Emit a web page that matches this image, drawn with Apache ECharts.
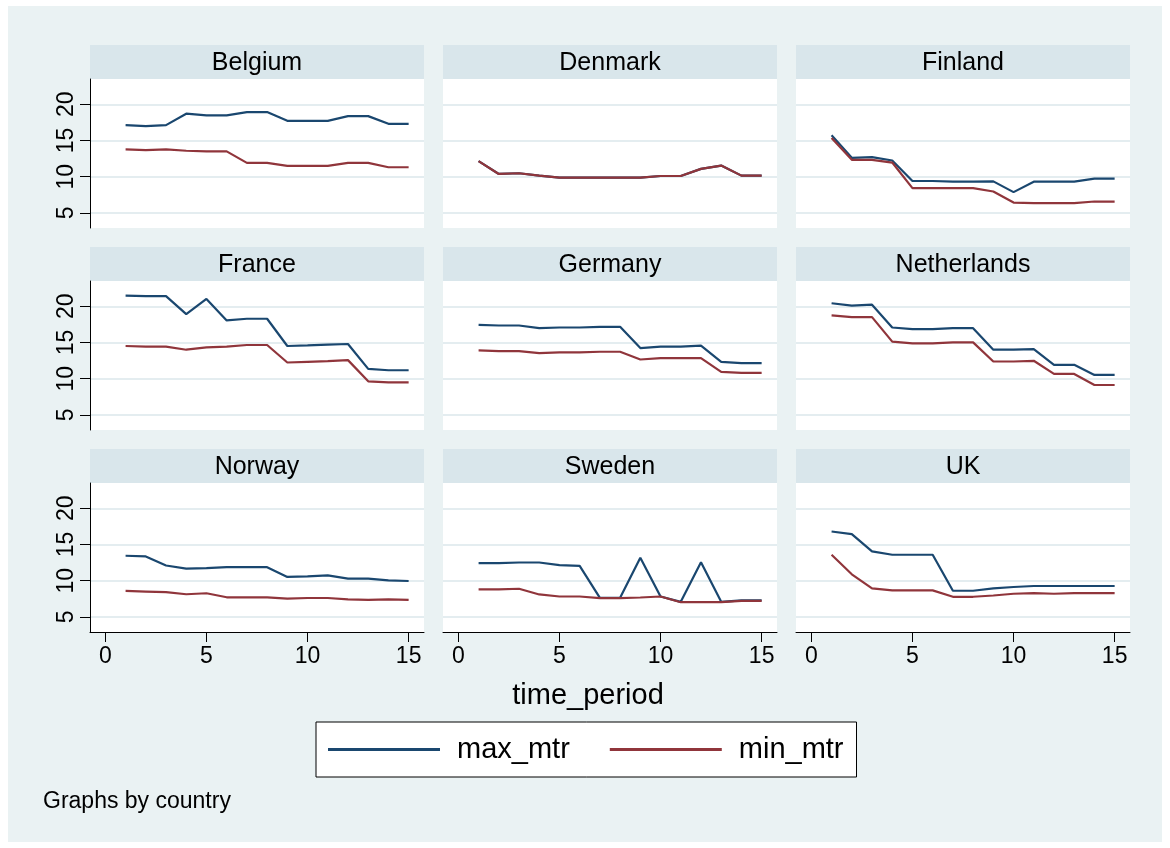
<!DOCTYPE html>
<html><head><meta charset="utf-8">
<script src="https://cdn.jsdelivr.net/npm/echarts@6/dist/echarts.min.js"></script>
<style>
html,body{margin:0;padding:0;background:#fff;}
#wrap{position:relative;width:1170px;height:848px;}
#bg{position:absolute;left:8px;top:6px;width:1154px;height:836px;background:#EAF2F3;}
#c{position:absolute;left:0;top:0;width:1170px;height:848px;}
</style>
</head><body>
<div id="wrap"><div id="bg"></div><div id="c"></div></div>
<script>
const periods = [1,2,3,4,5,6,7,8,9,10,11,12,13,14,15];
const countries = ['Belgium','Denmark','Finland','France','Germany','Netherlands','Norway','Sweden','UK'];
const xTicks = [0,5,10,15];
const yTicks = [5,10,15,20];
const seriesNames = ['max_mtr','min_mtr'];

const belgiumMax = [17.12,16.98,17.12,18.7,18.47,18.47,18.93,18.93,17.72,17.72,17.72,18.37,18.37,17.3,17.3];
const belgiumMin = [13.77,13.67,13.77,13.58,13.49,13.49,11.9,11.9,11.49,11.49,11.49,11.9,11.9,11.3,11.3];
const denmarkMax = [12.14,10.37,10.47,10.14,9.86,9.86,9.86,9.86,9.86,10.09,10.09,11.07,11.53,10.14,10.14];
const denmarkMin = [12.14,10.37,10.47,10.14,9.86,9.86,9.86,9.86,9.86,10.09,10.09,11.07,11.53,10.14,10.14];
const finlandMax = [15.72,12.6,12.7,12.23,9.4,9.4,9.3,9.3,9.35,7.86,9.3,9.3,9.3,9.72,9.72];
const finlandMin = [15.35,12.33,12.33,11.95,8.42,8.42,8.42,8.42,7.95,6.42,6.33,6.33,6.33,6.56,6.56];
const franceMax = [21.49,21.4,21.4,18.93,21.02,18.05,18.28,18.28,14.51,14.6,14.7,14.79,11.35,11.16,11.16];
const franceMin = [14.51,14.42,14.42,14.0,14.33,14.42,14.65,14.65,12.23,12.33,12.42,12.56,9.63,9.49,9.49];
const germanyMax = [17.44,17.35,17.35,16.98,17.07,17.07,17.16,17.16,14.23,14.42,14.42,14.56,12.33,12.14,12.14];
const germanyMin = [13.91,13.81,13.81,13.53,13.63,13.63,13.72,13.72,12.65,12.84,12.84,12.84,10.93,10.79,10.79];
const netherlandsMax = [20.42,20.09,20.23,17.07,16.84,16.84,16.98,16.98,14.0,14.0,14.09,11.91,11.91,10.51,10.51];
const netherlandsMin = [18.74,18.51,18.51,15.12,14.88,14.88,15.02,15.02,12.37,12.37,12.47,10.65,10.65,9.12,9.12];
const norwayMax = [13.44,13.35,12.09,11.67,11.72,11.86,11.86,11.86,10.51,10.6,10.74,10.28,10.28,10.05,9.95];
const norwayMin = [8.58,8.49,8.4,8.12,8.26,7.7,7.7,7.7,7.51,7.6,7.6,7.42,7.33,7.42,7.33];
const swedenMax = [12.42,12.42,12.51,12.51,12.14,12.05,7.63,7.63,13.16,7.81,7.07,12.56,7.07,7.26,7.26];
const swedenMin = [8.79,8.79,8.88,8.09,7.81,7.81,7.58,7.58,7.67,7.81,7.02,7.02,7.02,7.21,7.21];
const ukMax = [16.79,16.42,14.05,13.58,13.58,13.58,8.6,8.6,8.93,9.12,9.26,9.26,9.26,9.26,9.26];
const ukMin = [13.58,10.88,8.93,8.65,8.65,8.65,7.77,7.77,7.95,8.19,8.28,8.19,8.28,8.28,8.28];

const maxByCountry = [belgiumMax,denmarkMax,finlandMax,franceMax,germanyMax,netherlandsMax,norwayMax,swedenMax,ukMax];
const minByCountry = [belgiumMin,denmarkMin,finlandMin,franceMin,germanyMin,netherlandsMin,norwayMin,swedenMin,ukMin];

const FONT = 'Liberation Sans, Arial, Helvetica, sans-serif';
const BLUE = '#1A476F', RED = '#90353B';
const colLeft = [90, 443, 796];
const rowTop = [79, 281, 483];
const PW = 334, PH = 149, STRIP = 34;

const grids = [], xAxes = [], yAxes = [], series = [], graphics = [];
countries.forEach((name, i) => {
  const col = i % 3, row = Math.floor(i / 3);
  const left = colLeft[col], top = rowTop[row];
  grids.push({left: left, top: top, width: PW, height: PH, show: true,
    backgroundColor: '#ffffff', borderWidth: 0, containLabel: false});
  const bottomRow = row === 2, leftCol = col === 0;
  xAxes.push({type: 'value', gridIndex: i, min: -0.76, max: 15.76,
    axisLine: {show: bottomRow, onZero: false, lineStyle: {color: '#000', width: 1}},
    axisTick: {show: bottomRow, customValues: xTicks, length: 10, lineStyle: {color: '#000', width: 1}},
    axisLabel: {show: bottomRow, customValues: xTicks, fontSize: 23, color: '#000', fontFamily: FONT, margin: 13},
    splitLine: {show: false}});
  yAxes.push({type: 'value', gridIndex: i, min: 2.9, max: 23.5,
    axisLine: {show: leftCol, onZero: false, lineStyle: {color: '#000', width: 1}},
    axisTick: {show: leftCol, customValues: yTicks, length: 10, lineStyle: {color: '#000', width: 1}},
    axisLabel: {show: leftCol, customValues: yTicks, rotate: 90, fontSize: 23, color: '#000', fontFamily: FONT, margin: 12},
    splitLine: {show: true, lineStyle: {color: '#E4EDF0', width: 2}}});
  const mx = maxByCountry[i], mn = minByCountry[i];
  series.push({name: seriesNames[0], type: 'line', xAxisIndex: i, yAxisIndex: i,
    data: periods.map((p, k) => [p, mx[k]]), symbol: 'none', showSymbol: false,
    lineStyle: {color: BLUE, width: 2.2}, itemStyle: {color: BLUE}, animation: false});
  series.push({name: seriesNames[1], type: 'line', xAxisIndex: i, yAxisIndex: i,
    data: periods.map((p, k) => [p, mn[k]]), symbol: 'none', showSymbol: false,
    lineStyle: {color: RED, width: 2.2}, itemStyle: {color: RED}, animation: false});
  graphics.push({type: 'rect', shape: {x: left, y: top - STRIP, width: PW, height: STRIP},
    style: {fill: '#D9E6EB'}, silent: true});
  graphics.push({type: 'text', x: left + PW / 2, y: top - STRIP / 2 + 1,
    style: {text: name, fill: '#000', font: '25px ' + FONT, textAlign: 'center', textVerticalAlign: 'middle'}, silent: true});
});
graphics.push({type: 'text', x: 588, y: 696,
  style: {text: 'time_period', fill: '#000', font: '29px ' + FONT, textAlign: 'center', textVerticalAlign: 'middle'}});
graphics.push({type: 'text', x: 43, y: 802,
  style: {text: 'Graphs by country', fill: '#000', font: '23px ' + FONT, textAlign: 'left', textVerticalAlign: 'middle'}});

const chart = echarts.init(document.getElementById('c'), null, {renderer: 'canvas'});
chart.setOption({
  animation: false,
  backgroundColor: 'transparent',
  grid: grids, xAxis: xAxes, yAxis: yAxes, series: series,
  graphic: graphics,
  legend: {data: [{name: seriesNames[0], icon: 'rect'}, {name: seriesNames[1], icon: 'rect'}],
    left: 316, top: 722, orient: 'horizontal',
    itemWidth: 112, itemHeight: 3, itemGap: 40, padding: [12, 13, 12, 12],
    backgroundColor: '#fff', borderColor: '#000', borderWidth: 1, borderRadius: 0,
    textStyle: {fontSize: 29, color: '#000', fontFamily: FONT, padding: [0, 0, 0, 12], lineHeight: 31}}
});
</script>
</body></html>
